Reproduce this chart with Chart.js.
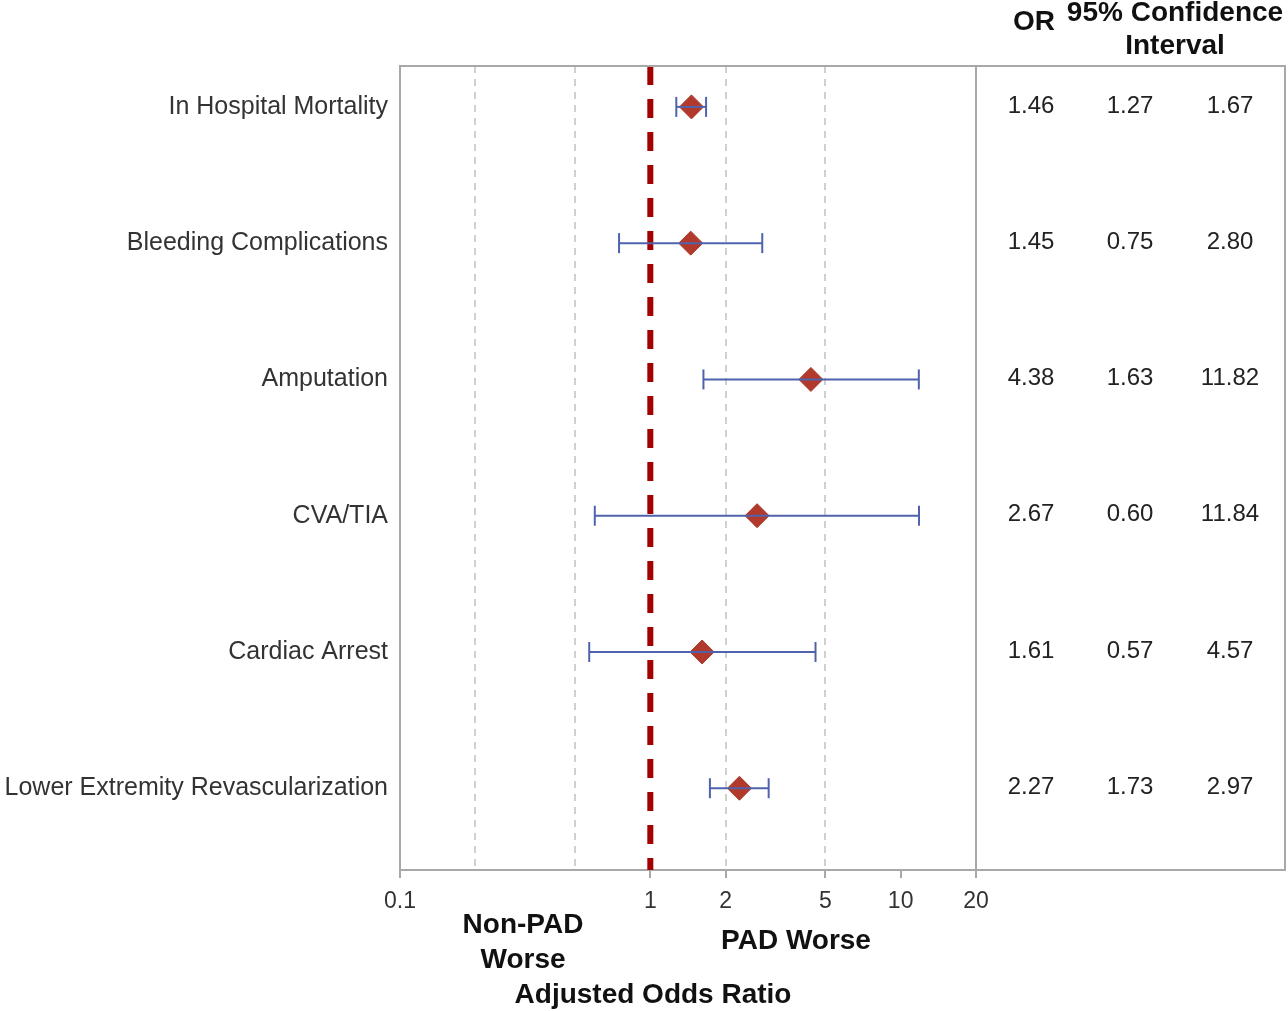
<!DOCTYPE html>
<html>
<head>
<meta charset="utf-8">
<script src="https://cdn.jsdelivr.net/npm/chart.js@4/dist/chart.umd.min.js"></script>
<style>
  html, body { margin: 0; padding: 0; background: #fff; }
  #wrap { width: 1288px; height: 1011px; }
</style>
</head>
<body>
<div id="wrap"><canvas id="forest" width="1288" height="1011"></canvas></div>
<script>
const outcomes = ['In Hospital Mortality', 'Bleeding Complications', 'Amputation', 'CVA/TIA', 'Cardiac Arrest', 'Lower Extremity Revascularization'];
const oddsRatio = [1.46, 1.45, 4.38, 2.67, 1.61, 2.27];
const ciLow = [1.27, 0.75, 1.63, 0.60, 0.57, 1.73];
const ciHigh = [1.67, 2.80, 11.82, 11.84, 4.57, 2.97];
const xTicks = [0.1, 0.2, 0.5, 1, 2, 5, 10, 20];
const labelledTicks = [0.1, 1, 2, 5, 10, 20];
const gridTicks = [0.2, 0.5, 2, 5];

const FONT = '"Liberation Sans", Arial, sans-serif';
const BORDER = '#a8a8a8';

// whiskers: one small dataset per outcome, caps are rotated 'line' points
const whiskers = outcomes.map((name, i) => ({
    type: 'line',
    data: [{ x: ciLow[i], y: i }, { x: ciHigh[i], y: i }],
    borderColor: '#4f63ad',
    borderWidth: 2,
    pointStyle: 'line',
    pointRotation: 90,
    pointRadius: 10,
    pointBorderWidth: 2,
    pointBorderColor: '#4f63ad',
    order: 1
}));

const tablePlugin = {
    id: 'tablePlugin',
    afterDraw(chart) {
        const { ctx, chartArea: a, scales } = chart;
        const y = scales.y;
        ctx.save();
        // outer box and divider
        ctx.strokeStyle = BORDER;
        ctx.lineWidth = 2;
        ctx.beginPath();
        ctx.moveTo(a.left, a.top);
        ctx.lineTo(1285, a.top);
        ctx.lineTo(1285, a.bottom);
        ctx.lineTo(a.right, a.bottom);
        ctx.moveTo(a.right, a.top);
        ctx.lineTo(a.right, a.bottom);
        ctx.stroke();

        // values
        ctx.fillStyle = '#222';
        ctx.font = '24px ' + FONT;
        ctx.textAlign = 'center';
        ctx.textBaseline = 'middle';
        outcomes.forEach((name, i) => {
            const py = y.getPixelForValue(i) - 1;
            ctx.fillText(oddsRatio[i].toFixed(2), 1031, py);
            ctx.fillText(ciLow[i].toFixed(2), 1130, py);
            ctx.fillText(ciHigh[i].toFixed(2), 1230, py);
        });

        // headers and notes
        ctx.fillStyle = '#111';
        ctx.font = 'bold 28px ' + FONT;
        ctx.fillText('OR', 1034, 22);
        ctx.fillText('95% Confidence', 1175, 13);
        ctx.fillText('Interval', 1175, 46);
        ctx.fillText('Non-PAD', 523, 925);
        ctx.fillText('Worse', 523, 960);
        ctx.fillText('PAD Worse', 796, 941);
        ctx.fillText('Adjusted Odds Ratio', 653, 995);
        ctx.restore();
    }
};

new Chart(document.getElementById('forest'), {
    type: 'scatter',
    data: {
        datasets: [
            {
                type: 'line',
                data: [{ x: 1, y: -0.3 }, { x: 1, y: 5.6 }],
                borderColor: '#a30000',
                borderWidth: 6,
                borderDash: [19, 14],
                pointRadius: 0,
                order: 3
            },
            {
                data: oddsRatio.map((v, i) => ({ x: v, y: i })),
                pointStyle: 'rectRot',
                pointRadius: 12,
                backgroundColor: '#b23a2c',
                borderColor: '#a8352a',
                borderWidth: 1,
                order: 2
            },
            ...whiskers
        ]
    },
    options: {
        responsive: false,
        animation: false,
        layout: { padding: { top: 66, right: 312, left: 0, bottom: 0 } },
        plugins: { legend: { display: false }, tooltip: { enabled: false } },
        scales: {
            x: {
                type: 'logarithmic',
                min: 0.1,
                max: 20,
                afterBuildTicks: s => { s.ticks = xTicks.map(v => ({ value: v })); },
                afterFit: s => { s.height = 141; },
                ticks: {
                    autoSkip: false,
                    maxRotation: 0,
                    color: '#333',
                    padding: 10,
                    font: { family: FONT, size: 23 },
                    callback: v => labelledTicks.includes(v) ? String(v) : ''
                },
                grid: {
                    color: c => gridTicks.includes(c.tick && c.tick.value) ? '#d0d0d0' : 'rgba(0,0,0,0)',
                    tickColor: c => labelledTicks.includes(c.tick && c.tick.value) ? BORDER : 'rgba(0,0,0,0)',
                    lineWidth: 2,
                    tickWidth: 2,
                    tickLength: 8,
                    tickBorderDash: []
                },
                border: { color: BORDER, width: 2, dash: [7, 6] }
            },
            y: {
                type: 'linear',
                min: -0.3,
                max: 5.6,
                reverse: true,
                afterBuildTicks: s => { s.ticks = outcomes.map((n, i) => ({ value: i })); },
                afterFit: s => { s.width = 400; },
                ticks: {
                    autoSkip: false,
                    color: '#333',
                    padding: 12,
                    font: { family: FONT, size: 25 },
                    callback: v => outcomes[v]
                },
                grid: { display: false, drawTicks: false },
                border: { color: BORDER, width: 2 }
            }
        }
    },
    plugins: [tablePlugin]
});
</script>
</body>
</html>
